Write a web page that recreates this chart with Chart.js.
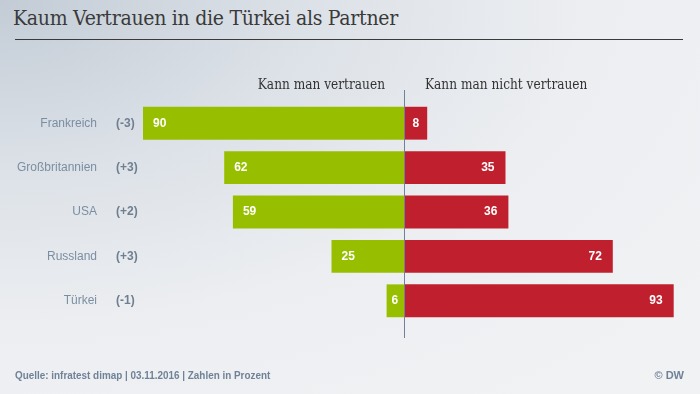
<!DOCTYPE html>
<html>
<head>
<meta charset="utf-8">
<script src="https://cdn.jsdelivr.net/npm/chart.js@4"></script>
<style>
  html, body { margin: 0; padding: 0; }
  body {
    width: 700px; height: 394px; overflow: hidden; position: relative;
    background: radial-gradient(ellipse 900px 500px at 0 0, #c3ccd6 0%, #dde2e8 35%, #eceef1 65%, #f1f2f4 100%);
  }
  #title {
    position: absolute; left: 13px; top: 6px; transform: scaleX(0.945); transform-origin: 0 0;
    font-family: "DejaVu Serif", "Liberation Serif", serif; font-size: 20px; color: #3a3a3a;
    letter-spacing: -0.3px; white-space: nowrap;
  }
  #rule { position: absolute; left: 15px; top: 39px; width: 668px; height: 1px; background: #3a3a3a; }
  #foot {
    position: absolute; left: 15px; top: 369px; transform: scaleX(0.9); transform-origin: 0 0; white-space: nowrap;
    font-family: "Liberation Sans", Arial, sans-serif; font-size: 11px; font-weight: bold; color: #6f8297;
  }
  #dw {
    position: absolute; right: 16px; top: 369px;
    font-family: "Liberation Sans", Arial, sans-serif; font-size: 11px; font-weight: bold; color: #6f8297;
  }
  #wrap { position: absolute; left: 0; top: 0; width: 700px; height: 394px; }
</style>
</head>
<body>
<div id="title">Kaum Vertrauen in die Türkei als Partner</div>
<div id="rule"></div>
<div id="wrap"><canvas id="mycanvas"></canvas></div>
<div id="foot">Quelle: infratest dimap | 03.11.2016 | Zahlen in Prozent</div>
<div id="dw">© DW</div>
<script>
var countries = ["Frankreich", "Großbritannien", "USA", "Russland", "Türkei"];
var changes = ["(-3)", "(+3)", "(+2)", "(+3)", "(-1)"];
var trust = [90, 62, 59, 25, 6];
var noTrust = [8, 35, 36, 72, 93];
var headers = ["Kann man vertrauen", "Kann man nicht vertrauen"];

var green = "#97bf00";
var red = "#c0202e";

var labelsPlugin = {
  id: "labels",
  afterDatasetsDraw: function(chart) {
    var ctx = chart.ctx;
    var xs = chart.scales.x;
    var ys = chart.scales.y;
    var x0 = xs.getPixelForValue(0);

    // center line
    ctx.save();
    ctx.strokeStyle = "#6f8297";
    ctx.lineWidth = 1;
    ctx.beginPath();
    ctx.moveTo(Math.round(x0) + 0.5, ys.top - 11);
    ctx.lineTo(Math.round(x0) + 0.5, ys.bottom + 15);
    ctx.stroke();

    // column headers (condensed)
    ctx.font = "14px 'DejaVu Serif', 'Liberation Serif', serif";
    ctx.fillStyle = "#333";
    ctx.textBaseline = "alphabetic";
    ctx.save();
    ctx.translate(x0 - 19, 89);
    ctx.scale(0.87, 1);
    ctx.textAlign = "right";
    ctx.fillText(headers[0], 0, 0);
    ctx.restore();
    ctx.save();
    ctx.translate(x0 + 21, 89);
    ctx.scale(0.87, 1);
    ctx.textAlign = "left";
    ctx.fillText(headers[1], 0, 0);
    ctx.restore();

    // left labels
    ctx.textBaseline = "middle";
    for (var i = 0; i < countries.length; i++) {
      var y = ys.getPixelForValue(i);
      ctx.font = "12px 'Liberation Sans', Arial, sans-serif";
      ctx.fillStyle = "#7b8ea1";
      ctx.textAlign = "right";
      ctx.fillText(countries[i], 97, y);
      ctx.font = "bold 12px 'Liberation Sans', Arial, sans-serif";
      ctx.fillStyle = "#6f7f90";
      ctx.textAlign = "left";
      ctx.fillText(changes[i], 116, y);
    }

    // values in bars
    ctx.font = "bold 12px 'Liberation Sans', Arial, sans-serif";
    ctx.fillStyle = "#fff";
    chart.getDatasetMeta(0).data.forEach(function(bar, i) {
      ctx.textAlign = "left";
      var left = Math.min(bar.x, bar.base);
      ctx.fillText(String(trust[i]), left + (trust[i] < 10 ? 5 : 10), bar.y);
    });
    chart.getDatasetMeta(1).data.forEach(function(bar, i) {
      ctx.textAlign = "right";
      var right = Math.max(bar.x, bar.base);
      ctx.fillText(String(noTrust[i]), right - (noTrust[i] < 10 ? 8 : 11), bar.y);
    });
    ctx.restore();
  }
};

var chart = new Chart(document.getElementById("mycanvas"), {
  type: "bar",
  data: {
    labels: countries,
    datasets: [
      { label: headers[0], data: trust.map(function(v) { return -v; }), backgroundColor: green, barPercentage: 1, categoryPercentage: 0.74 },
      { label: headers[1], data: noTrust, backgroundColor: red, barPercentage: 1, categoryPercentage: 0.74 }
    ]
  },
  options: {
    indexAxis: "y",
    responsive: true,
    maintainAspectRatio: false,
    animation: false,
    layout: { padding: { left: 114, right: 6, top: 101, bottom: 71 } },
    plugins: { legend: { display: false }, tooltip: { enabled: false } },
    scales: {
      x: { stacked: true, min: -100, max: 100, display: false },
      y: { stacked: true, display: false }
    }
  },
  plugins: [labelsPlugin]
});
</script>
</body>
</html>
